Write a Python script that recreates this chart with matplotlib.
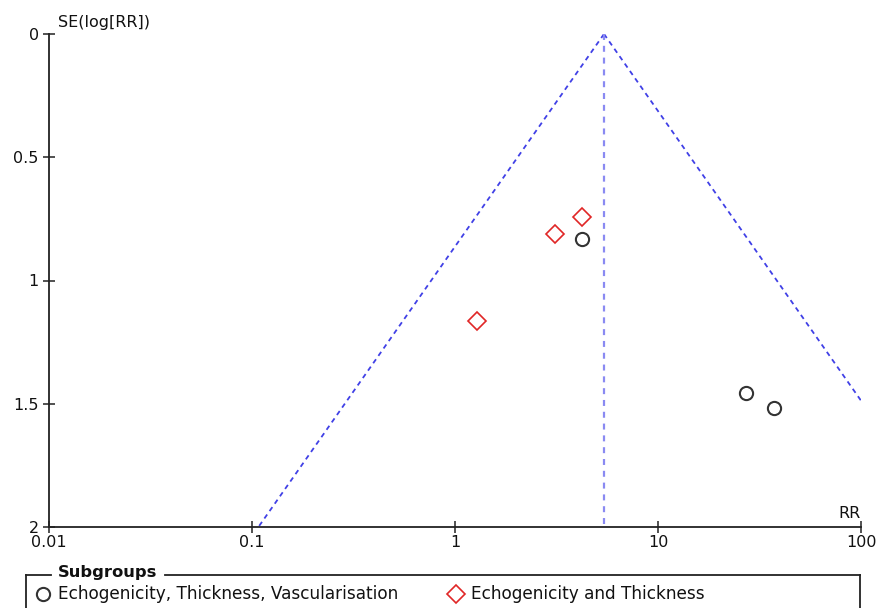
import numpy as np
import matplotlib
matplotlib.use("Agg")
import matplotlib.pyplot as plt

plt.rcParams['font.family'] = ['DejaVu Sans']
plt.rcParams['lines.scale_dashes'] = False

# ---- data ----
pooled_rr = 5.42
se_range = [0.0, 2.0]
group1_label = "Echogenicity, Thickness, Vascularisation"
group1_rr = [4.21, 27.1, 37.4]
group1_se = [0.832, 1.455, 1.516]
group2_label = "Echogenicity and Thickness"
group2_rr = [4.21, 3.11, 1.29]
group2_se = [0.741, 0.811, 1.163]
x_ticks = [0.01, 0.1, 1, 10, 100]
x_ticklabels = ["0.01", "0.1", "1", "10", "100"]
y_ticks = [0, 0.5, 1, 1.5, 2]
y_ticklabels = ["0", "0.5", "1", "1.5", "2"]
legend_title = "Subgroups"

W, H = 877, 608
fig = plt.figure(figsize=(W / 100, H / 100), dpi=100)

L, R, T, B = 49, 861, 34, 527
ax = fig.add_axes([L / W, 1 - B / H, (R - L) / W, (B - T) / H])
ax.patch.set_alpha(0)

# funnel lines
se = np.array(se_range)
lo = pooled_rr * np.exp(-1.96 * se)
hi = pooled_rr * np.exp(1.96 * se)
diag_c = '#4040e6'
ax.plot(lo, se, color=diag_c, lw=1.3, dashes=(3.5, 3.0))
ax.plot(hi, se, color=diag_c, lw=1.3, dashes=(3.5, 3.0))
ax.plot([pooled_rr, pooled_rr], se, color='#8a8af2', lw=1.6, dashes=(4.3, 4.2))

circ_style = dict(ls='none', marker='o', ms=9.5, mfc='none', mec='#333333', mew=1.5)
diam_style = dict(ls='none', marker='D', ms=8.8, mfc='none', mec='#e02626', mew=1.2)
ax.plot(group1_rr, group1_se, **circ_style, zorder=5)
ax.plot(group2_rr, group2_se, **diam_style, zorder=5)

ax.set_xscale('log')
ax.set_xlim(0.01, 100)
ax.set_ylim(2, 0)
ax.set_xticks(x_ticks)
ax.set_xticklabels(x_ticklabels)
ax.xaxis.set_minor_locator(matplotlib.ticker.NullLocator())
ax.set_yticks(y_ticks)
ax.set_yticklabels(y_ticklabels)

for s in ['top', 'right']:
    ax.spines[s].set_visible(False)
for s in ['left', 'bottom']:
    ax.spines[s].set_linewidth(1.3)
    ax.spines[s].set_color('#222222')
ax.tick_params(axis='both', direction='inout', length=8.6, width=1.1,
               color='#222222', labelsize=11.5, labelcolor='#111111')
ax.tick_params(axis='x', pad=1.5)
ax.tick_params(axis='y', pad=3.0)

# overlay for labels and legend box (pixel coordinates)
ov = fig.add_axes([0, 0, 1, 1], zorder=-1)
ov.set_xlim(0, W)
ov.set_ylim(H, 0)
ov.axis('off')

ov.text(58, 23, "SE(log[RR])", ha='left', va='center', fontsize=11.5, color='#111111')
ov.text(861, 514, "RR", ha='right', va='center', fontsize=11.5, color='#111111')

# legend box with title on the border
bc = '#222222'
ov.plot([26, 26], [575, 612], color=bc, lw=1.3, clip_on=False)
ov.plot([26, 51], [575, 575], color=bc, lw=1.3)
ov.plot([165, 860], [575, 575], color=bc, lw=1.3)
ov.plot([860, 860], [575, 612], color=bc, lw=1.3, clip_on=False)
ov.text(58, 573, legend_title, ha='left', va='center', fontsize=11.8,
        fontweight='bold', color='#111111')

ov.plot([42.5], [594], **circ_style)
ov.text(58, 594, group1_label, ha='left', va='center', fontsize=12.2, color='#111111')
ov.plot([456], [594], **diam_style)
ov.text(471, 594, group2_label, ha='left', va='center', fontsize=12.2, color='#111111')

fig.savefig("out.png", dpi=100)
